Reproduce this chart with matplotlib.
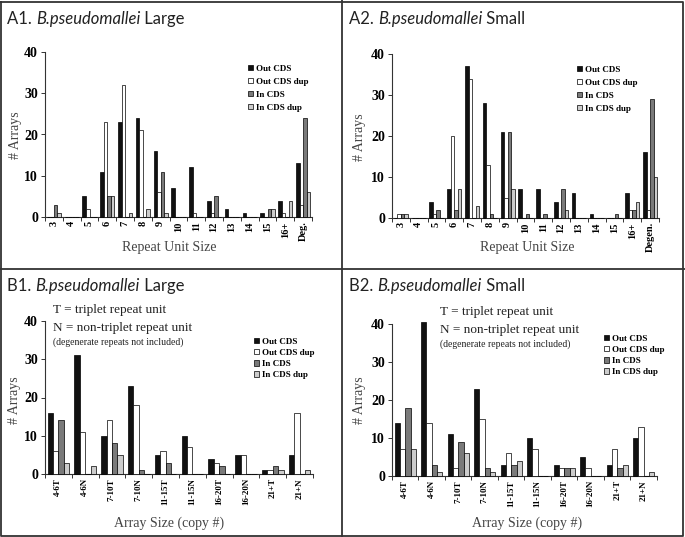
import matplotlib
matplotlib.use("Agg")
import matplotlib.pyplot as plt
from matplotlib.patches import Patch
from matplotlib.lines import Line2D
import numpy as np

# ---------------------------------------------------------------------------
# Data
# ---------------------------------------------------------------------------
series_names = ['Out CDS', 'Out CDS dup', 'In CDS', 'In CDS dup']
series_colors = ['#111111', '#ffffff', '#7a7a7a', '#cccccc']

# A panels: repeat unit size
unit_cats_a1 = ['3', '4', '5', '6', '7', '8', '9', '10', '11', '12', '13', '14', '15', '16+', 'Deg.']
unit_cats_a2 = ['3', '4', '5', '6', '7', '8', '9', '10', '11', '12', '13', '14', '15', '16+', 'Degen.']

a1_out = [0, 0, 5, 11, 23, 24, 16, 7, 12, 4, 2, 1, 1, 4, 13]
a1_out_dup = [0, 0, 2, 23, 32, 21, 6, 0, 1, 1, 0, 0, 0, 1, 3]
a1_in = [3, 0, 0, 5, 0, 0, 11, 0, 0, 5, 0, 0, 2, 0, 24]
a1_in_dup = [1, 0, 0, 5, 1, 2, 1, 0, 0, 0, 0, 0, 2, 4, 6]

a2_out = [0, 0, 4, 7, 37, 28, 21, 7, 7, 4, 6, 1, 0, 6, 16]
a2_out_dup = [1, 0, 1, 20, 34, 13, 5, 0, 0, 0, 0, 0, 0, 2, 2]
a2_in = [1, 0, 2, 2, 0, 1, 21, 1, 1, 7, 0, 0, 1, 2, 29]
a2_in_dup = [1, 0, 0, 7, 3, 0, 7, 0, 0, 2, 0, 0, 0, 4, 10]

# B panels: array size (copy #)
size_cats = ['4-6T', '4-6N', '7-10T', '7-10N', '11-15T', '11-15N',
             '16-20T', '16-20N', '21+T', '21+N']

b1_out = [16, 31, 10, 23, 5, 10, 4, 5, 1, 5]
b1_out_dup = [6, 11, 14, 18, 6, 7, 3, 5, 1, 16]
b1_in = [14, 0, 8, 1, 3, 0, 2, 0, 2, 0]
b1_in_dup = [3, 2, 5, 0, 0, 0, 0, 0, 1, 1]

b2_out = [14, 40.5, 11, 23, 3, 10, 3, 5, 3, 10]
b2_out_dup = [7, 14, 2, 15, 6, 7, 2, 2, 7, 13]
b2_in = [18, 3, 9, 2, 3, 0, 2, 0, 2, 0]
b2_in_dup = [7, 1, 6, 1, 4, 0, 2, 0, 3, 1]

yticks = [0, 10, 20, 30, 40]

# ---------------------------------------------------------------------------
SERIF = 'Liberation Serif'
SANS = 'Lato'
W, H = 685, 537

fig = plt.figure(figsize=(6.85, 5.37), dpi=100)
bg = fig.add_axes([0, 0, 1, 1], zorder=-1)
bg.set_xlim(0, W)
bg.set_ylim(H, 0)
bg.axis('off')

# panel frame
frame_kw = dict(color='#333333', linewidth=1.3)
bg.add_line(Line2D([1.5, W - 1.5, W - 1.5, 1.5, 1.5], [1.5, 1.5, H - 1.5, H - 1.5, 1.5], **frame_kw))
bg.add_line(Line2D([342.5, 342.5], [0, H], **frame_kw))
bg.add_line(Line2D([0, W], [268.5, 268.5], **frame_kw))


def px_axes(left, top, right, bottom):
    return fig.add_axes([left / W, 1 - bottom / H, (right - left) / W, (bottom - top) / H])


def panel_title(x, y, tag, size_word):
    t1 = bg.text(x, y, tag + ' ', fontfamily=SANS, fontsize=12, va='baseline', ha='left',
                 color='#222222')
    t2 = bg.annotate('B.pseudomallei', xy=(1, 0), xycoords=t1, fontfamily=SANS,
                     fontsize=12, style='italic', va='bottom', ha='left', color='#222222')
    bg.annotate(' ' + size_word, xy=(1, 0), xycoords=t2, fontfamily=SANS,
                fontsize=12, va='bottom', ha='left', color='#222222')


def draw_panel(ax, cats, data, tick_fs, legend_xy, label_spacing):
    x = np.arange(len(cats))
    w = 0.2
    for k, (vals, col) in enumerate(zip(data, series_colors)):
        ax.bar(x + (k - 1.5) * w, vals, width=w, color=col, edgecolor='black',
               linewidth=0.5, zorder=3, clip_on=False)
    ax.set_xlim(-0.5, len(cats) - 0.5)
    ax.set_ylim(0, 40)
    ax.set_yticks(yticks)
    ax.set_yticklabels([str(v) for v in yticks], fontfamily=SERIF,
                       fontweight='bold', fontsize=10)
    # tick marks between categories, labels at centres
    ax.set_xticks(np.arange(len(cats) + 1) - 0.5)
    ax.set_xticklabels([])
    ax.set_xticks(x, minor=True)
    ax.set_xticklabels(cats, minor=True, rotation=90, fontfamily=SERIF,
                       fontweight='bold', fontsize=tick_fs, va='top', ha='center')
    ax.tick_params(axis='x', which='minor', length=0, pad=3)
    ax.tick_params(axis='x', which='major', length=3, width=0.7, color='#333333')
    ax.tick_params(axis='y', length=3, width=0.7, color='#333333', pad=2)
    for s in ['top', 'right']:
        ax.spines[s].set_visible(False)
    for s in ['left', 'bottom']:
        ax.spines[s].set_color('#333333')
        ax.spines[s].set_linewidth(0.8)
    ax.patch.set_alpha(0)

    handles = [Patch(facecolor=c, edgecolor='black', linewidth=0.5) for c in series_colors]
    ax.legend(handles, series_names, loc='upper left',
              bbox_to_anchor=(legend_xy[0] / W, 1 - legend_xy[1] / H),
              bbox_transform=fig.transFigure, frameon=False, borderpad=0,
              handlelength=0.6, handleheight=0.6, handletextpad=0.3,
              labelspacing=label_spacing,
              prop=dict(family=SERIF, weight='bold', size=6.5))


# A1
ax_a1 = px_axes(45, 52, 312, 217)
draw_panel(ax_a1, unit_cats_a1, [a1_out, a1_out_dup, a1_in, a1_in_dup], 7.5, (243, 60), 0.55)
# A2
ax_a2 = px_axes(392, 54, 659, 218)
draw_panel(ax_a2, unit_cats_a2, [a2_out, a2_out_dup, a2_in, a2_in_dup], 7.5, (572, 61), 0.55)
# B1
ax_b1 = px_axes(45, 321, 313, 474)
draw_panel(ax_b1, size_cats, [b1_out, b1_out_dup, b1_in, b1_in_dup], 6.5, (249, 333), 0.35)
# B2
ax_b2 = px_axes(392, 324, 657, 476)
draw_panel(ax_b2, size_cats, [b2_out, b2_out_dup, b2_in, b2_in_dup], 6.5, (599, 330), 0.35)

# titles
panel_title(7, 24, 'A1.', 'Large')
panel_title(349, 24, 'A2.', 'Small')
panel_title(7, 291, 'B1.', 'Large')
panel_title(349, 291, 'B2.', 'Small')

# axis labels
lab_kw = dict(fontfamily=SERIF, fontsize=10, color='#444444', ha='center', va='center')
for cx, cy in [(169, 248), (527, 248)]:
    bg.text(cx, cy, 'Repeat Unit Size', **lab_kw)
for cx, cy in [(169, 523), (527, 523)]:
    bg.text(cx, cy, 'Array Size (copy #)', **lab_kw)
for cx, cy in [(16, 135), (360, 137), (15, 400), (360, 400)]:
    bg.text(cx, cy, '# Arrays', rotation=90, **lab_kw)

# triplet notes
for nx, ny in [(53, 310), (440, 312)]:
    bg.text(nx, ny, 'T = triplet repeat unit', fontfamily=SERIF, fontsize=9.5,
            color='#222222', va='center')
    bg.text(nx, ny + 18, 'N = non-triplet repeat unit', fontfamily=SERIF, fontsize=9.5,
            color='#222222', va='center')
    bg.text(nx, ny + 32, '(degenerate repeats not included)', fontfamily=SERIF,
            fontsize=7, color='#222222', va='center')

fig.savefig('out.png', dpi=100, facecolor='white')
